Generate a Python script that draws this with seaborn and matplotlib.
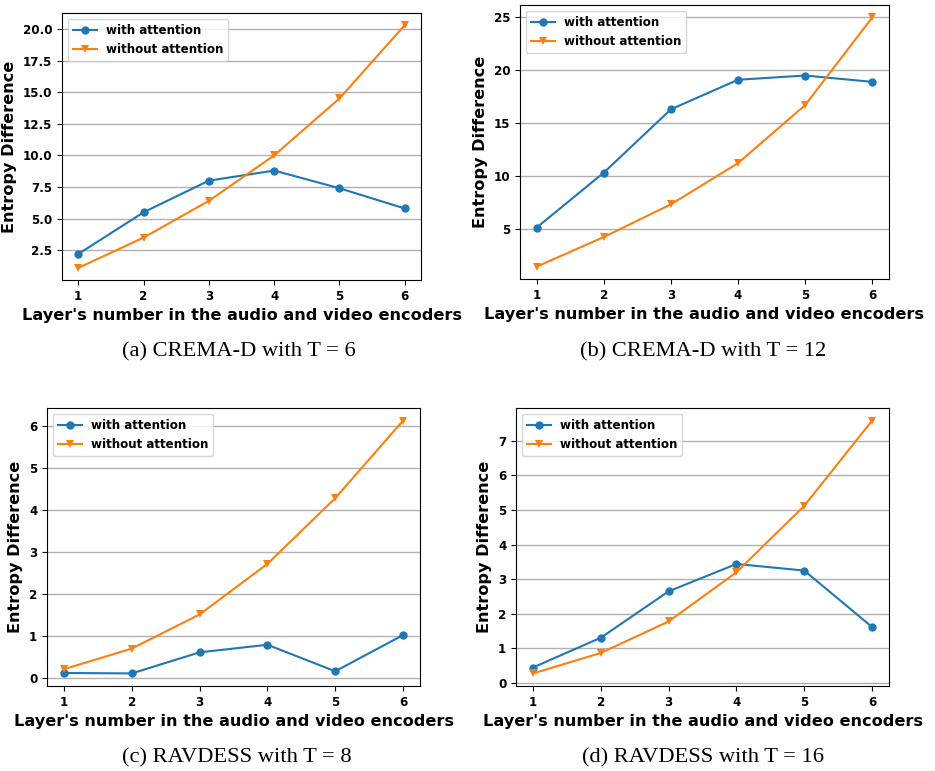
import numpy as np
import pandas as pd
import seaborn as sns
import matplotlib.pyplot as plt

layers = [1, 2, 3, 4, 5, 6]

crema6_with = [2.2, 5.5, 8.0, 8.8, 7.4, 5.8]
crema6_without = [1.1, 3.5, 6.4, 10.0, 14.5, 20.3]
crema12_with = [5.1, 10.3, 16.3, 19.1, 19.5, 18.9]
crema12_without = [1.4, 4.2, 7.3, 11.2, 16.7, 25.0]
rav8_with = [0.13, 0.12, 0.62, 0.80, 0.17, 1.03]
rav8_without = [0.22, 0.71, 1.52, 2.72, 4.28, 6.12]
rav16_with = [0.45, 1.31, 2.65, 3.44, 3.25, 1.62]
rav16_without = [0.28, 0.87, 1.78, 3.20, 5.12, 7.58]

captions = ['(a) CREMA-D with T = 6', '(b) CREMA-D with T = 12',
            '(c) RAVDESS with T = 8', '(d) RAVDESS with T = 16']

plt.rcParams['font.family'] = ['DejaVu Sans']
plt.rcParams['font.weight'] = 'bold'
plt.rcParams['axes.labelweight'] = 'bold'

fig = plt.figure(figsize=(9.35, 7.71), dpi=100)

# axes rectangles in figure fractions
rects = [
    [0.0663, 0.6368, 0.384, 0.3463],
    [0.5561, 0.6381, 0.3947, 0.3554],
    [0.0503, 0.1102, 0.3989, 0.3606],
    [0.5519, 0.1102, 0.3989, 0.3606],
]
caption_pos = [(239 / 935, 1 - 352 / 771), (703 / 935, 1 - 352 / 771),
               (237 / 935, 1 - 758 / 771), (703 / 935, 1 - 758 / 771)]

series = [(crema6_with, crema6_without), (crema12_with, crema12_without),
          (rav8_with, rav8_without), (rav16_with, rav16_without)]

for rect, (w, wo), cap, cpos in zip(rects, series, captions, caption_pos):
    ax = fig.add_axes(rect)
    sns.lineplot(x=layers, y=w, marker='o', color='tab:blue', markersize=6,
                 markeredgewidth=0, linewidth=1.5, label='with attention', ax=ax)
    sns.lineplot(x=layers, y=wo, marker='v', color='tab:orange', markersize=6,
                 markeredgewidth=0, linewidth=1.5, label='without attention', ax=ax)
    ax.set_xticks(layers)
    ax.grid(axis='y', color='#b0b0b0', linewidth=1)
    ax.set_axisbelow(True)
    ax.set_xlabel("Layer's number in the audio and video encoders", fontsize=11.6, fontweight='bold')
    ax.set_ylabel('Entropy Difference', fontsize=11.6, fontweight='bold')
    ax.tick_params(labelsize=8.6)
    for t in ax.get_xticklabels() + ax.get_yticklabels():
        t.set_fontweight('bold')
    leg = ax.legend(loc='upper left', prop={'weight': 'bold', 'size': 8.6})
    fig.text(cpos[0], cpos[1], cap, ha='center', va='center',
             family='Liberation Serif', fontweight='normal', fontsize=16.2)

fig.savefig('out.png', dpi=100)
